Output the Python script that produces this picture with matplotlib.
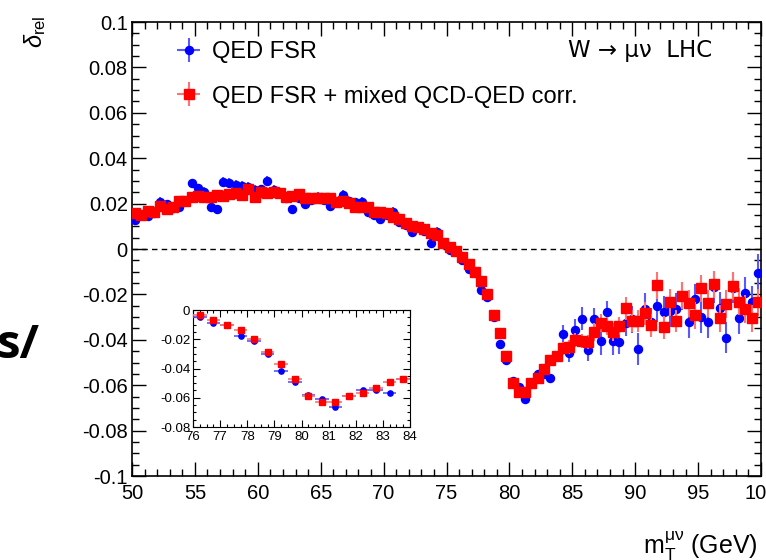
import numpy as np
import matplotlib
matplotlib.use("Agg")
import matplotlib.pyplot as plt

plt.rcParams['font.family'] = ['Liberation Sans', 'DejaVu Sans']
plt.rcParams['mathtext.fontset'] = 'custom'
plt.rcParams['mathtext.rm'] = 'Liberation Sans'
plt.rcParams['mathtext.it'] = 'Liberation Sans:italic'

# bin centres, 0.5 GeV bins from 50 to 100
mt = np.arange(50.25, 100.0, 0.5)

# QED FSR (blue)
qed = [0.0128, 0.0150, 0.0145, 0.0157, 0.0208, 0.0198, 0.0180, 0.0184, 0.0210, 0.0289,
       0.0267, 0.0252, 0.0186, 0.0176, 0.0297, 0.0292, 0.0282, 0.0279, 0.0274, 0.0260,
       0.0264, 0.0300, 0.0260, 0.0245, 0.0223, 0.0176, 0.0223, 0.0197, 0.0216, 0.0230,
       0.0216, 0.0190, 0.0208, 0.0238, 0.0211, 0.0206, 0.0208, 0.0164, 0.0150, 0.0131,
       0.0150, 0.0164, 0.0120, 0.0105, 0.0073, 0.0098, 0.0080, 0.0025, 0.0076, 0.0020,
       -0.0004, -0.0010, -0.0050, -0.0090, -0.0100, -0.0180, -0.0210, -0.0300, -0.0420, -0.0490,
       -0.0580, -0.0610, -0.0660, -0.0590, -0.0550, -0.0550, -0.0570, -0.0470, -0.0374, -0.0457,
       -0.0357, -0.0307, -0.0445, -0.0310, -0.0405, -0.0279, -0.0405, -0.0411, -0.0324, -0.0310,
       -0.0439, -0.0264, -0.0320, -0.0250, -0.0279, -0.0272, -0.0264, -0.0207, -0.0320, -0.0222,
       -0.0300, -0.0320, -0.0169, -0.0260, -0.0390, -0.0170, -0.0304, -0.0192, -0.0235, -0.0104]
qed_err = [0.002] * 10 + [0.002] * 10 + [0.002] * 10 + [0.002] * 10 + [0.002] * 10 + \
          [0.0012] * 10 + [0.0012] * 8 + [0.004, 0.004] + \
          [0.005, 0.005, 0.005, 0.005, 0.006, 0.005, 0.006, 0.005, 0.006, 0.006] + \
          [0.007, 0.007, 0.006, 0.007, 0.007, 0.007, 0.007, 0.006, 0.007, 0.007] + \
          [0.007, 0.007, 0.007, 0.007, 0.007, 0.007, 0.007, 0.007, 0.007, 0.008]

# QED FSR + mixed QCD-QED corr. (red)
mixed = [0.0157, 0.0150, 0.0167, 0.0164, 0.0190, 0.0176, 0.0184, 0.0211, 0.0211, 0.0230,
         0.0233, 0.0230, 0.0228, 0.0238, 0.0233, 0.0241, 0.0245, 0.0238, 0.0263, 0.0230,
         0.0252, 0.0245, 0.0250, 0.0245, 0.0228, 0.0233, 0.0241, 0.0223, 0.0223, 0.0223,
         0.0223, 0.0223, 0.0208, 0.0211, 0.0201, 0.0186, 0.0186, 0.0186, 0.0162, 0.0162,
         0.0157, 0.0140, 0.0131, 0.0113, 0.0101, 0.0098, 0.0087, 0.0072, 0.0062, 0.0025,
         0.0010, -0.0009, -0.0035, -0.0065, -0.0100, -0.0140, -0.0200, -0.0290, -0.0370, -0.0470,
         -0.0590, -0.0630, -0.0630, -0.0590, -0.0570, -0.0530, -0.0490, -0.0470, -0.0438, -0.0433,
         -0.0400, -0.0405, -0.0410, -0.0366, -0.0327, -0.0340, -0.0366, -0.0340, -0.0261, -0.0317,
         -0.0317, -0.0283, -0.0336, -0.0160, -0.0345, -0.0235, -0.0317, -0.0206, -0.0240, -0.0292,
         -0.0173, -0.0240, -0.0156, -0.0305, -0.0242, -0.0163, -0.0232, -0.0264, -0.0305, -0.0235]
mixed_err = [0.0008] * 50 + [0.0008] * 18 + [0.003, 0.003] + \
            [0.003, 0.003, 0.003, 0.004, 0.004, 0.004, 0.004, 0.004, 0.005, 0.005] + \
            [0.005, 0.005, 0.005, 0.006, 0.005, 0.006, 0.005, 0.006, 0.006, 0.006] + \
            [0.006, 0.006, 0.006, 0.006, 0.006, 0.006, 0.006, 0.006, 0.006, 0.006]

yticks = [0.1, 0.08, 0.06, 0.04, 0.02, 0, -0.02, -0.04, -0.06, -0.08, -0.1]
ytick_labels = ['0.1', '0.08', '0.06', '0.04', '0.02', '0', '-0.02', '-0.04', '-0.06', '-0.08', '-0.1']
xticks = [50, 55, 60, 65, 70, 75, 80, 85, 90, 95, 100]

in_xticks = [76, 77, 78, 79, 80, 81, 82, 83, 84]
in_yticks = [0, -0.02, -0.04, -0.06, -0.08]
in_ytick_labels = ['0', '-0.02', '-0.04', '-0.06', '-0.08']

fig = plt.figure(figsize=(7.66, 5.6), dpi=100)
ax = fig.add_axes([0.1723, 0.15, 0.8212, 0.8107])

ax.axhline(0, color='black', lw=1, ls=(0, (4, 3)), zorder=1)

hb = ax.errorbar(mt, qed, yerr=qed_err, xerr=0.25, fmt='o', color='blue', ms=5.8,
                 ecolor=(0.35, 0.35, 1.0), elinewidth=1.5, capsize=0, zorder=3)
hr = ax.errorbar(mt, mixed, yerr=mixed_err, xerr=0.25, fmt='s', color='red', ms=6.5,
                 ecolor=(1.0, 0.45, 0.45), elinewidth=1.5, capsize=0, zorder=4)

ax.set_xlim(50, 100)
ax.set_ylim(-0.1, 0.1)
ax.set_yticks(yticks)
ax.set_yticklabels(ytick_labels)
ax.set_xticks(xticks)
ax.set_xticks(np.arange(50, 101, 1), minor=True)
ax.set_yticks(np.arange(-0.1, 0.1001, 0.005), minor=True)
ax.tick_params(which='both', direction='in', top=True, right=True, labelsize=14.5, width=1)
ax.tick_params(which='major', length=10)
ax.tick_params(which='minor', length=5)
ax.tick_params(axis='x', pad=6)
ax.tick_params(axis='y', pad=3)
for s in ax.spines.values():
    s.set_linewidth(1.2)

leg = ax.legend([hb, hr], ['QED FSR', 'QED FSR + mixed QCD-QED corr.'],
                loc='upper left', bbox_to_anchor=(0.0636, 0.958), frameon=False,
                borderpad=0, borderaxespad=0,
                fontsize=17, handlelength=1.4, handletextpad=0.3, labelspacing=0.95)

ax.text(0.922, 0.938, 'W → μν  LHC', transform=ax.transAxes, ha='right',
        va='center', fontsize=16.5, family=['DejaVu Sans'])

fig.text(35 / 766, 1 - 16 / 560, r'$\delta_{\mathrm{rel}}$', rotation=90, ha='center',
         va='top', fontsize=17)
fig.text(758 / 766, 1 - 554 / 560, '$\\mathrm{m}_{\\mathrm{T}}^{\\mathrm{μν}}$ (GeV)',
         ha='right', va='baseline', fontsize=18)

fig.text(40 / 766, 1 - 358 / 560, 's/', ha='right', va='baseline', fontsize=34,
         family=['Open Sans', 'DejaVu Sans'], weight='bold')

# inset: zoom on the peak region
axin = fig.add_axes([0.252, 0.2375, 0.2833, 0.2089])
sel = (mt > 76) & (mt < 84)
mt_in = mt[sel]
axin.errorbar(mt_in, np.array(qed)[sel], yerr=np.array(qed_err)[sel], xerr=0.25, fmt='o',
              color='blue', ms=3.8, ecolor=(0.35, 0.35, 1.0), elinewidth=1.2, capsize=0, zorder=3)
axin.errorbar(mt_in, np.array(mixed)[sel], yerr=np.array(mixed_err)[sel], xerr=0.25, fmt='s',
              color='red', ms=4.3, ecolor=(1.0, 0.45, 0.45), elinewidth=1.2, capsize=0, zorder=4)
axin.set_xlim(76, 84)
axin.set_ylim(-0.08, 0)
axin.set_xticks(in_xticks)
axin.set_xticks(np.arange(76, 84.01, 0.25), minor=True)
axin.set_yticks(in_yticks)
axin.set_yticklabels(in_ytick_labels)
axin.set_yticks(np.arange(-0.08, 0.0001, 0.005), minor=True)
axin.tick_params(which='both', direction='in', top=True, right=True, labelsize=9.5, width=0.8)
axin.tick_params(which='major', length=5)
axin.tick_params(which='minor', length=2.5)
axin.tick_params(axis='x', pad=3)
axin.tick_params(axis='y', pad=2)

fig.savefig('out.png', dpi=100)
